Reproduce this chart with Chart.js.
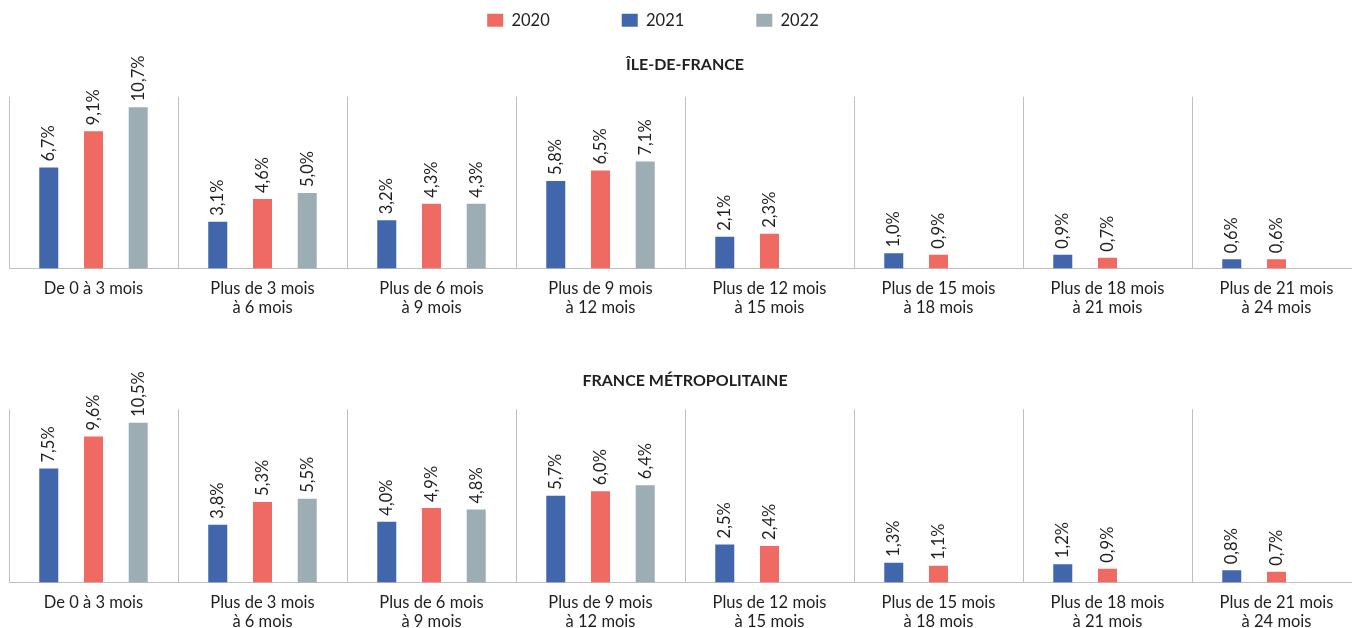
<!DOCTYPE html>
<html>
<head>
<meta charset="utf-8">
<script src="https://cdn.jsdelivr.net/npm/chart.js@4"></script>
<style>
  html, body { margin:0; padding:0; background:#fff; overflow:hidden; width:1352px; height:628px; }
  .box { position:absolute; left:0; width:1370px; }
</style>
</head>
<body>
<div class="box" style="top:0;height:330px;"><canvas id="c1" width="1370" height="330"></canvas></div>
<div class="box" style="top:330px;height:310px;"><canvas id="c2" width="1370" height="310"></canvas></div>
<script>
const categories = [
  "De 0 à 3 mois",
  ["Plus de 3 mois", "à 6 mois"],
  ["Plus de 6 mois", "à 9 mois"],
  ["Plus de 9 mois", "à 12 mois"],
  ["Plus de 12 mois", "à 15 mois"],
  ["Plus de 15 mois", "à 18 mois"],
  ["Plus de 18 mois", "à 21 mois"],
  ["Plus de 21 mois", "à 24 mois"]
];
const seriesLabels = ["2021", "2020", "2022"];
const idf2021 = [6.7, 3.1, 3.2, 5.8, 2.1, 1.0, 0.9, 0.6];
const idf2020 = [9.1, 4.6, 4.3, 6.5, 2.3, 0.9, 0.7, 0.6];
const idf2022 = [10.7, 5.0, 4.3, 7.1, null, null, null, null];
const fm2021 = [7.5, 3.8, 4.0, 5.7, 2.5, 1.3, 1.2, 0.8];
const fm2020 = [9.6, 5.3, 4.9, 6.0, 2.4, 1.1, 0.9, 0.7];
const fm2022 = [10.5, 5.5, 4.8, 6.4, null, null, null, null];
const titles = ["ÎLE-DE-FRANCE", "FRANCE MÉTROPOLITAINE"];

const colors = ["#4266AC", "#EE6A62", "#9CADB3"];
const FONT = "Lato, 'Open Sans', sans-serif";
const TEXT = "#1f1f1f";

const valueLabels = {
  id: 'valueLabels',
  afterDatasetsDraw(chart) {
    const ctx = chart.ctx;
    chart.data.datasets.forEach((ds, i) => {
      const meta = chart.getDatasetMeta(i);
      meta.data.forEach((bar, j) => {
        const v = ds.data[j];
        if (v === null || v === undefined) return;
        ctx.save();
        ctx.translate(bar.x, bar.y - 6);
        ctx.rotate(-Math.PI / 2);
        ctx.font = "16.5px " + FONT;
        ctx.fillStyle = TEXT;
        ctx.textAlign = 'left';
        ctx.textBaseline = 'middle';
        ctx.fillText(v.toFixed(1).replace('.', ',') + '%', 0, 0);
        ctx.restore();
      });
    });
  }
};

const legendShift = {
  id: 'legendShift',
  afterLayout(chart) {
    if (chart.legend && chart.options.plugins.legend.display) {
      chart.legend.left -= 32;
      chart.legend.right -= 32;
    }
  }
};

function makeChart(id, title, d1, d2, d3, showLegend, titlePad, layoutPad) {
  const data = [d1, d2, d3];
  new Chart(document.getElementById(id), {
    type: 'bar',
    data: {
      labels: categories,
      datasets: seriesLabels.map((lab, i) => ({
        label: lab,
        data: data[i],
        backgroundColor: colors[i],
        borderWidth: 0,
        categoryPercentage: 0.794,
        barPercentage: 0.425
      }))
    },
    options: {
      responsive: false,
      animation: false,
      layout: { padding: layoutPad },
      plugins: {
        legend: {
          display: showLegend,
          position: 'top',
          weight: 3000,
          labels: {
            boxWidth: 16, boxHeight: 13, padding: 72,
            font: { family: FONT, size: 16.5 }, color: TEXT,
            sort: (a, b) => a.text.localeCompare(b.text)
          }
        },
        title: {
          display: true, text: title,
          font: { family: FONT, size: 16, weight: 'bold' }, color: TEXT,
          padding: titlePad
        },
        tooltip: { enabled: false }
      },
      scales: {
        x: {
          grid: { display: true, offset: true, drawTicks: false, color: '#bfbfbf', lineWidth: 1 },
          border: { display: true, color: '#bfbfbf' },
          ticks: { font: { family: FONT, size: 16.5 }, color: TEXT, padding: 10, maxRotation: 0, autoSkip: false }
        },
        y: {
          display: false, min: 0, max: 11.4
        }
      }
    },
    plugins: [valueLabels, legendShift]
  });
}

makeChart('c1', titles[0], idf2021, idf2020, idf2022, true, { top: 17, bottom: 22 }, { left: 9, right: 9, top: -60, bottom: 2 });
makeChart('c2', titles[1], fm2021, fm2020, fm2022, false, { top: 41, bottom: 19 }, { left: 9, right: 9, top: 0, bottom: -2 });
</script>
</body>
</html>
